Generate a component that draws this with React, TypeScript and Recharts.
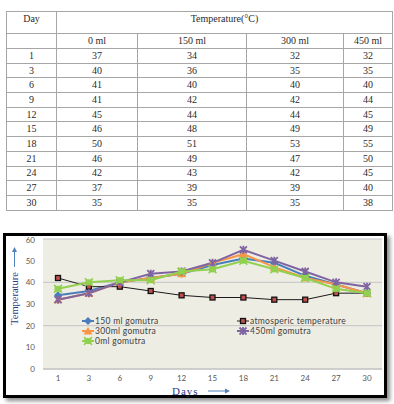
import { LineChart, Line, XAxis, YAxis, CartesianGrid } from "recharts";

const days = ["1", "3", "6", "9", "12", "15", "18", "21", "24", "27", "30"];
const ml0 = [37, 40, 41, 41, 45, 46, 50, 46, 42, 37, 35];
const ml150 = [34, 36, 40, 42, 44, 48, 51, 49, 43, 39, 35];
const ml300 = [32, 35, 40, 42, 44, 49, 53, 47, 42, 39, 35];
const ml450 = [32, 35, 40, 44, 45, 49, 55, 50, 45, 40, 38];
const atmos = [42, 38, 38, 36, 34, 33, 33, 32, 32, 35, 35];
const doseLabels = ["0 ml", "150 ml", "300 ml", "450 ml"];
const yTicks = [0, 10, 20, 30, 40, 50, 60];

const chartData = days.map((d, i) => ({
  day: d,
  ml0: ml0[i],
  ml150: ml150[i],
  ml300: ml300[i],
  ml450: ml450[i],
  atmos: atmos[i],
}));

const tableRows = days.map((d, i) => [d, ml0[i], ml150[i], ml300[i], ml450[i]]);

type Kind = "diamond" | "square" | "triangle" | "cross" | "star";

const series: { key: string; name: string; color: string; kind: Kind; width: number }[] = [
  { key: "ml150", name: "150 ml gomutra", color: "#4A7EBB", kind: "diamond", width: 2 },
  { key: "atmos", name: "atmosperic temperature", color: "#1a1a1a", kind: "square", width: 1 },
  { key: "ml300", name: "300ml gomutra", color: "#F79646", kind: "triangle", width: 2 },
  { key: "ml450", name: "450ml gomutra", color: "#8064A2", kind: "cross", width: 2 },
  { key: "ml0", name: "0ml gomutra", color: "#92D050", kind: "star", width: 2 },
];

const Marker = ({ cx, cy, kind, color }: { cx: number; cy: number; kind: Kind; color: string }) => {
  if (kind === "diamond")
    return <path d={`M${cx},${cy - 4}L${cx + 4},${cy}L${cx},${cy + 4}L${cx - 4},${cy}Z`} fill={color} />;
  if (kind === "square")
    return <rect x={cx - 2.5} y={cy - 2.5} width={5} height={5} fill="#C0504D" stroke="#111" strokeWidth={1.3} />;
  if (kind === "triangle")
    return <path d={`M${cx},${cy - 4}L${cx + 4.5},${cy + 3.5}L${cx - 4.5},${cy + 3.5}Z`} fill={color} />;
  if (kind === "cross")
    return (
      <path
        d={`M${cx - 3.5},${cy - 3.5}L${cx + 3.5},${cy + 3.5}M${cx + 3.5},${cy - 3.5}L${cx - 3.5},${cy + 3.5}M${cx},${cy - 4}L${cx},${cy + 4}`}
        stroke={color}
        strokeWidth={1.8}
      />
    );
  return (
    <g>
      <rect x={cx - 3.5} y={cy - 3} width={7} height={6} fill={color} />
      <path d={`M${cx - 4},${cy - 4}L${cx + 4},${cy + 4}M${cx + 4},${cy - 4}L${cx - 4},${cy + 4}`} stroke={color} strokeWidth={1.5} />
    </g>
  );
};

// legend sits inside the plot, two columns like the excel one
const LegendBox = () => {
  const spots = [
    [0, 0],
    [155, 0],
    [0, 10],
    [155, 10],
    [0, 20],
  ];
  return (
    <div style={{ position: "absolute", left: 82, top: 316, width: 300, height: 32 }}>
      {series.map((s, i) => (
        <div
          key={s.key}
          style={{
            position: "absolute",
            left: spots[i][0],
            top: spots[i][1],
            display: "flex",
            alignItems: "center",
            fontFamily: "Lato, sans-serif",
            fontSize: 8.5,
            color: "#404040",
            whiteSpace: "nowrap",
            lineHeight: "10px",
            letterSpacing: 0.3,
          }}
        >
          <svg width={12} height={10} style={{ marginRight: 1 }}>
            <line x1={0} y1={5} x2={12} y2={5} stroke={s.color} strokeWidth={s.width} />
            <Marker cx={6} cy={5} kind={s.kind} color={s.color} />
          </svg>
          {s.name}
        </div>
      ))}
    </div>
  );
};

const cell: React.CSSProperties = {
  border: "1px solid #a6a6a6",
  textAlign: "center",
  padding: 0,
  height: 13.7,
  lineHeight: "12px",
};

const Arrow = ({ length }: { length: number }) => (
  <svg width={length} height={6} style={{ display: "block" }}>
    <line x1={0} y1={3} x2={length - 4} y2={3} stroke="#4F81BD" strokeWidth={1} />
    <path d={`M${length - 5},0.5L${length},3L${length - 5},5.5Z`} fill="#4F81BD" />
  </svg>
);

export default function App() {
  return (
    <div style={{ position: "absolute", left: 0, top: 0, width: 394, height: 404, background: "#fff" }}>
      <table
        style={{
          position: "absolute",
          left: 6,
          top: 11,
          width: 386,
          borderCollapse: "collapse",
          fontFamily: "'Liberation Serif', serif",
          fontSize: 10,
          color: "#2b2b2b",
          tableLayout: "fixed",
        }}
      >
        <colgroup>
          <col style={{ width: 50 }} />
          <col style={{ width: 81 }} />
          <col style={{ width: 109 }} />
          <col style={{ width: 97 }} />
          <col style={{ width: 49 }} />
        </colgroup>
        <tbody>
          <tr>
            <td style={{ ...cell, height: 20, verticalAlign: "top", paddingTop: 1 }}>Day</td>
            <td colSpan={4} style={{ ...cell, height: 20, verticalAlign: "top", paddingTop: 1 }}>
              Temperature(°C)
            </td>
          </tr>
          <tr>
            <td style={{ ...cell, height: 14 }}></td>
            {doseLabels.map((l) => (
              <td key={l} style={{ ...cell, height: 14 }}>
                {l}
              </td>
            ))}
          </tr>
          {tableRows.map((r) => (
            <tr key={r[0]}>
              {r.map((v, j) => (
                <td key={j} style={cell}>
                  {v}
                </td>
              ))}
            </tr>
          ))}
        </tbody>
      </table>

      <div
        style={{
          position: "absolute",
          left: 3,
          top: 233,
          width: 384,
          height: 165,
          boxSizing: "border-box",
          border: "3px solid #000",
          boxShadow: "3px 3px 4px rgba(0,0,0,0.45)",
          background: "#fff",
        }}
      >
        <LineChart width={378} height={159} data={chartData} margin={{ top: 3, right: 2, bottom: 0, left: 0 }}>
          <CartesianGrid vertical={false} stroke="#c4c4c4" fill="#EDEDE4" />
          <XAxis
            dataKey="day"
            height={26}
            padding={{ left: 15, right: 15 }}
            tickLine={false}
            tickSize={0}
            tickMargin={6}
            axisLine={{ stroke: "#bfbfbf" }}
            tick={{ fontSize: 8, fill: "#595959", fontFamily: "Lato, sans-serif" }}
          />
          <YAxis
            domain={[0, 60]}
            ticks={yTicks}
            width={37}
            axisLine={false}
            tickLine={false}
            tickSize={0}
            tickMargin={8}
            tick={{ fontSize: 8, fill: "#595959", fontFamily: "Lato, sans-serif" }}
          />
          {series.map((s) => (
            <Line
              key={s.key}
              dataKey={s.key}
              name={s.name}
              stroke={s.color}
              strokeWidth={s.width}
              isAnimationActive={false}
              dot={(p: any) => <Marker key={`${s.key}-${p.index}`} cx={p.cx} cy={p.cy} kind={s.kind} color={s.color} />}
              activeDot={false}
            />
          ))}
        </LineChart>
      </div>

      <LegendBox />

      <div
        style={{
          position: "absolute",
          left: 14,
          top: 286,
          transform: "translate(-50%, -50%) rotate(-90deg)",
          display: "flex",
          alignItems: "center",
          whiteSpace: "nowrap",
          fontFamily: "'Liberation Serif', serif",
          fontSize: 10.5,
          color: "#2E3A87",
        }}
      >
        <span style={{ marginRight: 5 }}>Temperature</span>
        <Arrow length={20} />
      </div>

      <div
        style={{
          position: "absolute",
          left: 172,
          top: 385,
          display: "flex",
          alignItems: "center",
          whiteSpace: "nowrap",
          fontFamily: "'Liberation Serif', serif",
          fontSize: 11,
          letterSpacing: 1,
          color: "#2E3A87",
        }}
      >
        <span style={{ marginRight: 9 }}>Days</span>
        <Arrow length={22} />
      </div>
    </div>
  );
}
